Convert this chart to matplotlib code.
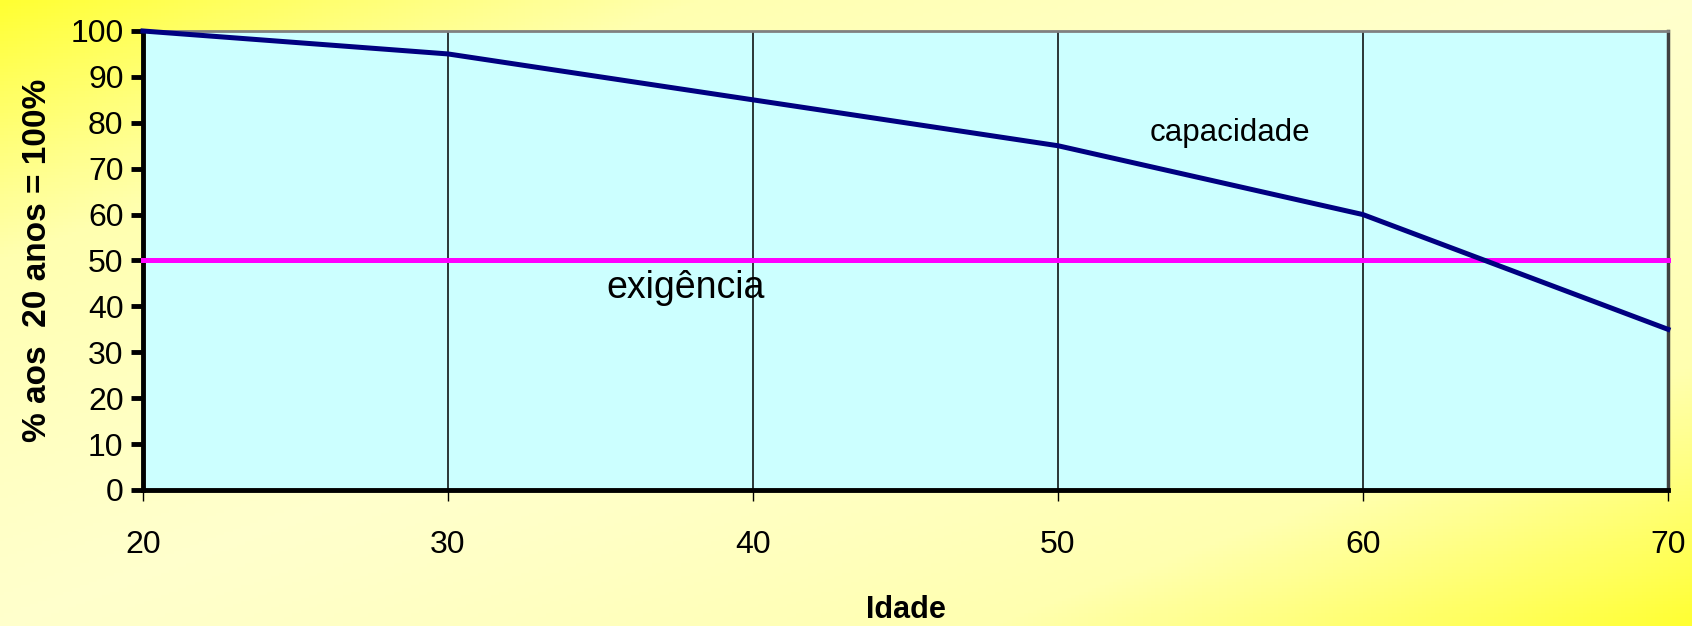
import matplotlib
matplotlib.use("Agg")
import matplotlib.pyplot as plt
import numpy as np
from matplotlib.colors import LinearSegmentedColormap

plt.rcParams['font.family'] = ['Liberation Sans', 'DejaVu Sans']

# data
idade = [20, 30, 40, 50, 60, 70]
capacidade = [100, 95, 85, 75, 60, 35]
exigencia = [50, 50, 50, 50, 50, 50]
x_ticks = [20, 30, 40, 50, 60, 70]
y_ticks = [0, 10, 20, 30, 40, 50, 60, 70, 80, 90, 100]

NAVY = "#000080"
MAGENTA = "#FF00FF"
PLOT_BG = "#CCFFFF"

fig = plt.figure(figsize=(16.92, 6.26), dpi=100)

# diagonal yellow gradient background
bg = fig.add_axes([0, 0, 1, 1], zorder=-10)
xx, yy = np.meshgrid(np.linspace(0, 1, 400), np.linspace(0, 1, 200))
t = np.abs((xx + yy) / 2 - 0.5) * 2
cmap = LinearSegmentedColormap.from_list("yel", ["#FFFFCC", "#FFFFB0", "#FFFF33"])
bg.imshow(t ** 1.3, cmap=cmap, aspect="auto", extent=[0, 1, 0, 1], vmin=0, vmax=1)
bg.axis("off")

ax = fig.add_axes([0.0845, 0.2173, 0.9013, 0.7332])
ax.set_facecolor(PLOT_BG)

ax.plot(idade, capacidade, color=NAVY, lw=3.6, zorder=5, clip_on=False)
ax.plot(idade, exigencia, color=MAGENTA, lw=3.6, zorder=4, clip_on=False)

ax.set_xlim(20, 70)
ax.set_ylim(0, 100)
ax.set_xticks(x_ticks)
ax.set_yticks(y_ticks)

# vertical grid lines
ax.xaxis.grid(True, color="black", lw=1.1)
ax.yaxis.grid(False)
ax.set_axisbelow(True)

ax.tick_params(axis="x", direction="out", length=8, width=1, pad=21, labelsize=23)
ax.tick_params(axis="y", direction="out", length=9, width=3.5, pad=5, labelsize=23)

for side in ("left", "bottom"):
    ax.spines[side].set_linewidth(3.5)
    ax.spines[side].set_color("black")
ax.spines["top"].set_color("#808080")
ax.spines["top"].set_linewidth(2)
ax.spines["right"].set_color("#404040")
ax.spines["right"].set_linewidth(2.5)

ax.text(53.0, 74.5, "capacidade", fontsize=22.5, ha="left", va="bottom")
ax.text(35.2, 44, "exigência", fontsize=27, ha="left", va="center")

ax.set_xlabel("Idade", fontsize=22, fontweight="bold", labelpad=25)
ax.set_ylabel("% aos  20 anos = 100%", fontsize=24, fontweight="bold")
ax.yaxis.set_label_coords(-0.059, 0.5)

fig.savefig("out.png", dpi=100)
